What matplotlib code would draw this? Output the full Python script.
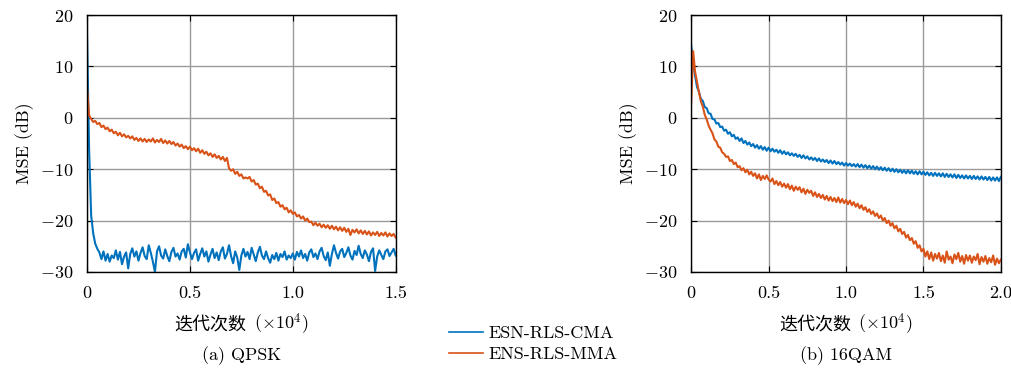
import numpy as np
import matplotlib
matplotlib.use('Agg')
import matplotlib.pyplot as plt
from matplotlib.offsetbox import TextArea, HPacker, AnchoredOffsetbox

plt.rcParams['font.family'] = ['cmr10', 'Noto Sans CJK SC', 'DejaVu Sans']
plt.rcParams['mathtext.fontset'] = 'cm'
plt.rcParams['axes.formatter.use_mathtext'] = True

labels = ['ESN-RLS-CMA', 'ENS-RLS-MMA']
titles = ['(a) QPSK', '(b) 16QAM']
xlabel_cn = '迭代次数'
xlabel_unit = r'($\times10^4$)'
ylabel = 'MSE (dB)'

# QPSK, one sample every 100 iterations
x_qpsk = np.arange(0, 15001, 100)
cma_qpsk = [
    16.0, -6.0, -19.0, -22.5, -24.5, -25.5, -26.2, -27.5, -26.0, -27.8,
    -26.5, -28.0, -26.8, -27.3, -25.8, -27.6, -26.1, -28.5, -27.0, -26.2,
    -29.3, -26.5, -25.4, -27.0, -26.0, -27.8, -26.3, -25.2, -26.9, -27.5,
    -24.8, -26.3, -28.0, -30.0, -26.0, -25.0, -26.8, -27.4, -25.6, -26.9,
    -27.9, -26.1, -25.3, -27.0, -26.4, -27.6, -26.0, -25.5, -27.2, -24.6,
    -26.2, -27.5, -26.3, -25.6, -27.8, -26.5, -25.4, -27.0, -26.0, -28.0,
    -26.6, -25.5, -27.3, -26.2, -27.7, -26.0, -25.2, -27.4, -26.5, -24.8,
    -26.9, -28.3, -26.0, -27.2, -29.6, -26.8, -25.5, -27.0, -26.1, -27.5,
    -25.3, -26.6, -27.9, -26.2, -25.1, -26.8, -27.5, -26.0, -27.3, -28.2,
    -26.7, -27.5, -26.3, -27.8, -26.5, -27.1, -26.0, -27.6, -26.8, -27.3,
    -26.4, -27.6, -26.1, -27.0, -25.8, -27.3, -26.5, -27.8, -26.2, -25.6,
    -27.1, -26.4, -27.5, -26.0, -25.3, -26.9, -27.7, -26.2, -28.8, -26.5,
    -24.8, -26.3, -27.4, -26.0, -25.5, -27.1, -26.3, -25.2, -26.8, -27.6,
    -25.9, -26.7, -24.9, -26.5, -27.3, -25.8, -26.6, -27.9, -26.1, -25.4,
    -29.8, -27.0, -25.8, -26.7, -27.5, -26.0, -25.6, -26.9, -26.2, -25.5,
    -26.8,
]
mma_qpsk = [
    6.0, 0.5, -0.2, -0.8, -0.6, -1.2, -1.0, -1.8, -1.5, -2.2,
    -1.9, -2.6, -2.3, -3.0, -2.7, -3.4, -2.9, -3.6, -3.2, -3.8,
    -3.5, -4.0, -3.6, -4.3, -3.9, -4.5, -4.0, -4.6, -4.1, -4.7,
    -4.2, -4.6, -4.0, -4.8, -4.3, -4.7, -4.1, -4.9, -4.4, -5.0,
    -4.5, -5.1, -4.7, -5.4, -5.0, -5.6, -5.2, -5.9, -5.5, -6.1,
    -5.6, -6.3, -5.9, -6.5, -6.0, -6.8, -6.3, -7.0, -6.6, -7.3,
    -6.9, -7.6, -7.1, -7.8, -7.4, -8.1, -7.6, -8.4, -7.8, -9.8,
    -10.3, -10.0, -10.9, -10.5, -11.3, -11.0, -11.8, -11.6, -11.8, -11.5,
    -12.4, -12.1, -13.0, -12.8, -13.7, -13.4, -14.4, -14.2, -15.1, -14.9,
    -16.0, -15.7, -16.6, -16.4, -17.3, -17.0, -17.8, -17.5, -18.4, -18.0,
    -18.7, -18.4, -19.2, -18.9, -19.6, -19.2, -20.0, -19.6, -20.3, -20.2,
    -20.9, -20.4, -21.0, -20.6, -21.3, -20.8, -21.4, -20.9, -21.6, -21.0,
    -21.7, -21.2, -21.9, -21.3, -22.0, -21.4, -22.2, -21.6, -22.8, -21.8,
    -22.3, -21.7, -22.5, -21.9, -22.6, -22.0, -22.7, -22.1, -22.9, -22.3,
    -22.8, -22.2, -23.0, -22.4, -22.9, -22.3, -23.1, -22.5, -23.0, -22.6,
    -23.3,
]

# 16QAM, one sample every 125 iterations
x_16qam = np.arange(0, 20001, 125)
cma_16qam = [
    14.0, 10.5, 8.2, 6.0, 5.1, 3.7, 3.3, 2.1, 1.9, 0.9, 0.8, -0.2, -0.3, -1.1, -1.0, -1.8, -1.7,
    -2.5, -2.3, -3.1, -2.8, -3.6, -3.3, -4.1, -3.8,
    -4.5, -4.0, -4.9, -4.5, -5.2, -4.8, -5.5, -5.1,
    -5.8, -5.3, -6.0, -5.5, -6.2, -5.7, -6.4, -5.8,
    -6.5, -6.0, -6.6, -6.2, -6.8, -6.3, -7.0, -6.5,
    -7.1, -6.7, -7.3, -6.9, -7.4, -7.0, -7.6, -7.2,
    -7.8, -7.3, -7.9, -7.5, -8.1, -7.7, -8.2, -7.8,
    -8.4, -7.9, -8.5, -8.1, -8.6, -8.2, -8.8, -8.3,
    -8.9, -8.4, -9.0, -8.6, -9.1, -8.7, -9.3, -8.8,
    -9.3, -8.9, -9.4, -9.0, -9.5, -9.0, -9.6, -9.1,
    -9.7, -9.2, -9.8, -9.3, -9.9, -9.4, -10.0, -9.5,
    -10.1, -9.6, -10.2, -9.7, -10.3, -9.8, -10.4, -9.9,
    -10.5, -10.0, -10.6, -10.1, -10.7, -10.2, -10.8, -10.2,
    -10.8, -10.3, -10.9, -10.4, -11.0, -10.4, -11.0, -10.5,
    -11.1, -10.6, -11.2, -10.7, -11.3, -10.7, -11.3, -10.8,
    -11.4, -10.8, -11.5, -10.9, -11.5, -11.0, -11.6, -11.0,
    -11.7, -11.1, -11.7, -11.2, -11.8, -11.2, -11.8, -11.3,
    -11.9, -11.3, -11.9, -11.4, -12.0, -11.4, -12.0, -11.5,
    -12.1, -11.5, -12.2, -11.6, -12.2, -11.6, -12.3, -11.5,
]
mma_16qam = [
    3.0, 13.0, 9.0, 7.0, 5.0, 3.2, 2.2, 0.6, -0.3, -1.5, -2.3, -3.0, -4.2, -4.6, -5.6, -5.8, -6.7,
    -7.0, -7.6, -7.5, -8.4, -8.2, -9.0, -8.7, -9.6,
    -9.4, -10.2, -9.8, -10.6, -10.1, -11.0, -10.5, -11.3,
    -10.8, -11.8, -11.0, -12.1, -11.3, -11.9, -11.2, -12.0,
    -12.4, -11.8, -12.9, -12.3, -13.1, -12.5, -13.4, -12.8,
    -13.6, -12.9, -13.9, -13.2, -14.2, -13.4, -14.0, -13.5,
    -14.5, -13.8, -14.8, -14.0, -14.6, -14.2, -15.2, -14.5,
    -15.4, -14.8, -15.6, -15.0, -15.9, -15.2, -16.1, -15.4,
    -16.2, -15.6, -16.4, -15.5, -16.5, -15.8, -16.6, -16.0,
    -16.8, -16.1, -17.0, -16.4, -17.3, -16.7, -17.6, -17.0,
    -17.9, -17.4, -18.3, -17.8, -18.7, -18.2, -19.1, -18.6,
    -19.5, -19.0, -20.0, -19.5, -20.5, -20.0, -21.0, -20.5,
    -21.5, -21.0, -22.1, -21.6, -22.6, -22.2, -23.3, -22.8,
    -23.8, -23.4, -24.5, -24.0, -25.3, -24.8, -26.0, -25.5,
    -27.0, -26.0, -27.5, -26.2, -27.8, -26.5, -27.4, -26.3,
    -27.9, -26.8, -28.2, -26.0, -27.6, -27.0, -28.3, -26.6,
    -27.5, -26.3, -28.0, -26.9, -28.4, -26.7, -27.8, -26.8,
    -28.2, -27.0, -27.7, -26.5, -28.5, -27.1, -28.0, -26.9,
    -28.4, -27.3, -28.1, -26.8, -28.6, -27.4, -28.3, -27.6,
]

blue = '#0072BD'
orange = '#D95319'


def setup_axes(ax, xmax, xticklabels, title):
    ax.set_xlim(0, xmax)
    ax.set_ylim(-30, 20)
    ax.set_xticks(np.arange(0, xmax + 1, 5000))
    ax.set_xticklabels(xticklabels)
    ax.set_yticks([-30, -20, -10, 0, 10, 20])
    ax.grid(True, color='#9a9a9a', linewidth=1.0)
    ax.tick_params(direction='in', top=True, right=True, labelsize=13,
                   length=4, width=0.8, pad=10)
    for s in ax.spines.values():
        s.set_linewidth(1.0)
    ax.set_ylabel(ylabel, fontsize=13)

    # x label: Chinese part + math part side by side
    cn = TextArea(xlabel_cn, textprops=dict(fontsize=13, family=['Noto Sans CJK SC']))
    unit = TextArea(xlabel_unit, textprops=dict(fontsize=13))
    box = HPacker(children=[cn, unit], align='baseline', pad=0, sep=5)
    ab = AnchoredOffsetbox(loc='center', child=box, pad=0, borderpad=0,
                           frameon=False, bbox_to_anchor=(0.5, -0.205),
                           bbox_transform=ax.transAxes)
    ax.add_artist(ab)

    ax.text(0.5, -0.325, title, transform=ax.transAxes, ha='center',
            va='center', fontsize=13)


fig = plt.figure(figsize=(10.12, 3.69), dpi=100)
ax1 = fig.add_axes([0.086, 0.263, 0.305, 0.696])
ax2 = fig.add_axes([0.683, 0.263, 0.306, 0.696])

l1, = ax1.plot(x_qpsk, cma_qpsk, color=blue, linewidth=1.5)
l2, = ax1.plot(x_qpsk, mma_qpsk, color=orange, linewidth=1.5)
setup_axes(ax1, 15000, ['0', '0.5', '1.0', '1.5'], titles[0])

ax2.plot(x_16qam, cma_16qam, color=blue, linewidth=1.5)
ax2.plot(x_16qam, mma_16qam, color=orange, linewidth=1.5)
setup_axes(ax2, 20000, ['0', '0.5', '1.0', '1.5', '2.0'], titles[1])

leg = fig.legend([l1, l2], labels, loc='center', bbox_to_anchor=(0.527, 0.068),
                 frameon=False, fontsize=13, handlelength=1.9, handletextpad=0.3,
                 labelspacing=0.3)
for h in leg.legend_handles:
    h.set_linewidth(1.2)

fig.savefig('out.png', dpi=100)
